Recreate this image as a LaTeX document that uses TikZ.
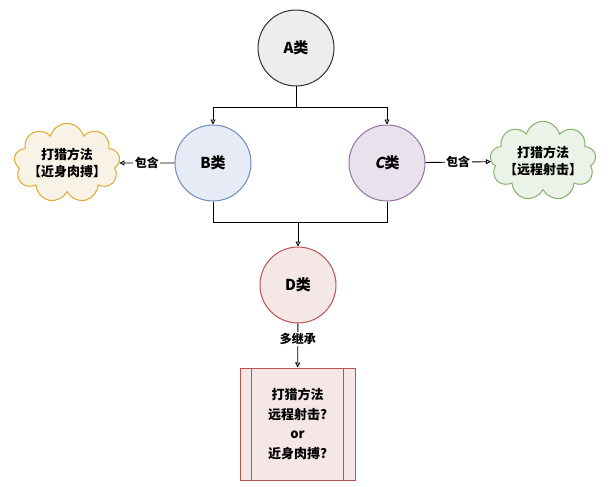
\documentclass[tikz,border=0pt]{standalone}
\usepackage{fontspec}
\setmainfont{Noto Sans CJK SC}
\newfontfamily\slantcjk{Noto Sans CJK SC}[FakeSlant=0.2]
\usetikzlibrary{arrows.meta,shapes.symbols}
\definecolor{aLine}{HTML}{333333}\definecolor{aFill}{HTML}{EDEDED}
\definecolor{bLine}{HTML}{6C8EBF}\definecolor{bFill}{HTML}{E6EBF5}
\definecolor{cLine}{HTML}{9673A6}\definecolor{cFill}{HTML}{E9E2ED}
\definecolor{dLine}{HTML}{B85450}\definecolor{dFill}{HTML}{F6E7E7}
\definecolor{nearLine}{HTML}{E0A82E}\definecolor{nearFill}{HTML}{F8F3E6}
\definecolor{farLine}{HTML}{82B366}\definecolor{farFill}{HTML}{EBF2E7}
\begin{document}
\begin{tikzpicture}[x=1pt, y=-1pt,
  cls/.style={shape=circle, line width=1pt, minimum size=76pt, inner sep=0pt, font=\bfseries\fontsize{15}{17}\selectfont},
  way/.style={shape=cloud, cloud puffs=9, aspect=1.6, line width=1pt, minimum width=106pt, minimum height=66pt, inner sep=-6pt, align=center, font=\bfseries\fontsize{13}{17}\selectfont},
  link/.style={line width=0.9pt, draw=black},
  tip/.style={-{Triangle[open, length=5pt, width=5pt]}},
  tag/.style={fill=white, inner sep=1.5pt, font=\bfseries\fontsize{12}{14}\selectfont}]
\useasboundingbox (0,0) rectangle (616,487);
% classes
\node[cls, draw=aLine, fill=aFill] (A) at (296,48) {A类};
\node[cls, draw=bLine, fill=bFill] (B) at (213,163) {B类};
\node[cls, draw=cLine, fill=cFill] (C) at (387,163) {{\slantcjk C}类};
\node[cls, draw=dLine, fill=dFill] (D) at (298,285) {D类};
% hunting ways
\node[way, draw=nearLine, fill=nearFill] (near) at (67,163) {打猎方法\\【近身肉搏】};
\node[way, draw=farLine, fill=farFill] (far) at (543,161) {打猎方法\\【远程射击】};
\node[draw=dLine, fill=dFill, line width=1pt, minimum width=115pt, minimum height=112pt, align=center,
  font=\bfseries\fontsize{13}{19.5}\selectfont] (box) at (297.5,424) {打猎方法\\远程射击?\\or\\近身肉搏?};
\draw[dLine, line width=0.8pt] ([xshift=12pt]box.north west) -- ([xshift=12pt]box.south west);
\draw[dLine, line width=0.8pt] ([xshift=-12pt]box.north east) -- ([xshift=-12pt]box.south east);
% connectors
\coordinate (split) at (296,107);
\coordinate (bd) at (213,222);
\coordinate (cd) at (387,222);
\coordinate (join) at (298,222);
\path[link] (A) -- (split);
\path[link, tip] (split) -| (B);
\path[link, tip] (split) -| (C);
\path[link] (B) -- (bd) -- (cd) -- (C);
\path[link, tip] (join) -- (D);
\path[link, tip] (B) -- (near) node[tag, midway] {包含};
\path[link, tip] (C) -- (far) node[tag, midway] {包含};
\path[link, tip] (D) -- (box) node[tag, pos=0.35] {多继承};
\end{tikzpicture}
\end{document}
